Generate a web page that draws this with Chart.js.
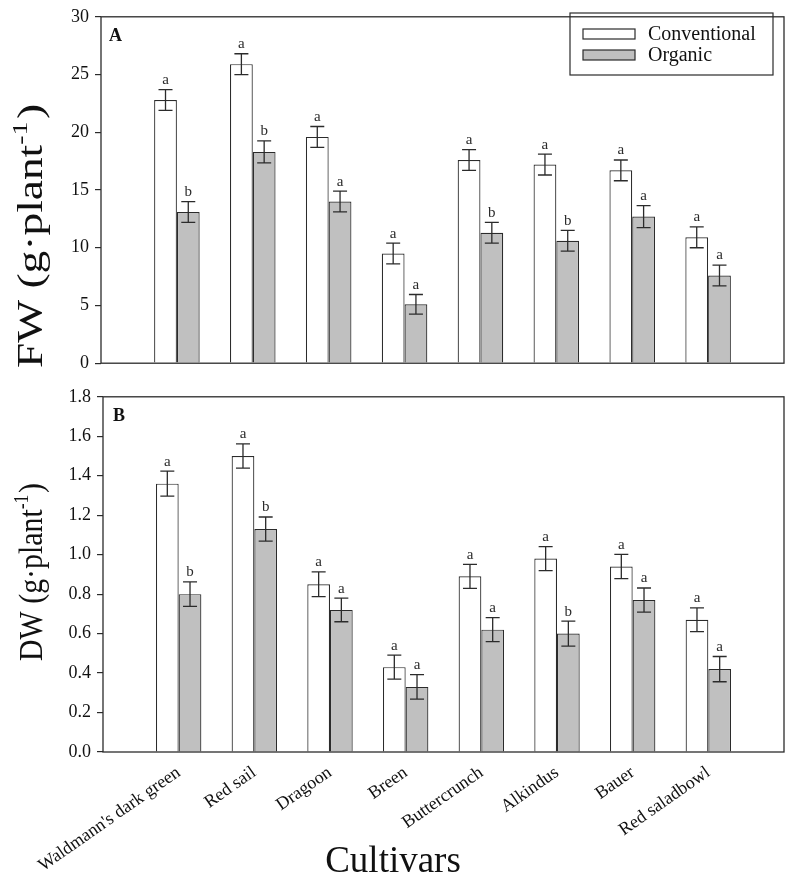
<!DOCTYPE html>
<html lang="en">
<head>
  <meta charset="UTF-8">
  <title>FW and DW by cultivar</title>
  <style>
    body { margin: 0; background: #fff; }
    .wrap { position: relative; width: 787px; height: 879px; }
    .panel { position: absolute; left: 0; }
    #boxA { top: 0; width: 787px; height: 380px; }
    #boxB { top: 380px; width: 787px; height: 499px; }
  </style>
</head>
<body>
  <div class="wrap">
    <div class="panel" id="boxA"><canvas id="chartA"></canvas></div>
    <div class="panel" id="boxB"><canvas id="chartB"></canvas></div>
  </div>

  <script src="https://cdn.jsdelivr.net/npm/chart.js"></script>
  <script>
    // Data
    const cultivars = ["Waldmann's dark green", 'Red sail', 'Dragoon', 'Breen', 'Buttercrunch', 'Alkindus', 'Bauer', 'Red saladbowl'];

    const fwConv = [22.8, 25.9, 19.6, 9.5, 17.6, 17.2, 16.7, 10.9];
    const fwConvErr = [0.9, 0.9, 0.9, 0.9, 0.9, 0.9, 0.9, 0.9];
    const fwConvLetters = ['a', 'a', 'a', 'a', 'a', 'a', 'a', 'a'];
    const fwOrg = [13.1, 18.3, 14.0, 5.1, 11.3, 10.6, 12.7, 7.6];
    const fwOrgErr = [0.9, 0.95, 0.9, 0.85, 0.9, 0.9, 0.95, 0.9];
    const fwOrgLetters = ['b', 'b', 'a', 'a', 'b', 'b', 'a', 'a'];

    const dwConv = [1.36, 1.50, 0.85, 0.43, 0.89, 0.98, 0.94, 0.67];
    const dwConvErr = [0.063, 0.061, 0.063, 0.061, 0.061, 0.061, 0.061, 0.06];
    const dwConvLetters = ['a', 'a', 'a', 'a', 'a', 'a', 'a', 'a'];
    const dwOrg = [0.80, 1.13, 0.72, 0.33, 0.62, 0.60, 0.77, 0.42];
    const dwOrgErr = [0.062, 0.061, 0.06, 0.062, 0.061, 0.063, 0.061, 0.064];
    const dwOrgLetters = ['b', 'b', 'a', 'a', 'a', 'b', 'a', 'a'];

    const fwTicks = [0, 5, 10, 15, 20, 25, 30];
    const dwTicks = [0, 0.2, 0.4, 0.6, 0.8, 1.0, 1.2, 1.4, 1.6, 1.8];

    const SERIF = '"Liberation Serif", "Times New Roman", serif';
    const INK = '#2b2b2b';

    // empty slots at both ends so the 8 groups sit one step in from each edge
    const pad = arr => [null, ...arr, null];
    const labels = ['', ...cultivars, ''];

    function makeSets(conv, convErr, convL, org, orgErr, orgL) {
      return [
        { label: 'Conventional', data: pad(conv), err: pad(convErr), letters: pad(convL),
          backgroundColor: '#ffffff', borderColor: INK, borderWidth: 1.2,
          categoryPercentage: 0.6, barPercentage: 1.0 },
        { label: 'Organic', data: pad(org), err: pad(orgErr), letters: pad(orgL),
          backgroundColor: '#c0c0c0', borderColor: INK, borderWidth: 1.2,
          categoryPercentage: 0.6, barPercentage: 1.0 }
      ];
    }

    // error bars, letters, frame, panel tag, legend, titles
    const extras = {
      id: 'extras',
      afterDatasetsDraw(chart, args, o) {
        const { ctx, chartArea: a } = chart;
        const y = chart.scales.y;
        ctx.save();
        chart.data.datasets.forEach((ds, di) => {
          const meta = chart.getDatasetMeta(di);
          meta.data.forEach((bar, i) => {
            const v = ds.data[i];
            if (v == null) return;
            const e = ds.err[i];
            const yt = y.getPixelForValue(v + e), yb = y.getPixelForValue(v - e);
            ctx.strokeStyle = INK;
            ctx.lineWidth = 1.3;
            ctx.beginPath();
            ctx.moveTo(bar.x, yt); ctx.lineTo(bar.x, yb);
            ctx.moveTo(bar.x - 7, yt); ctx.lineTo(bar.x + 7, yt);
            ctx.moveTo(bar.x - 7, yb); ctx.lineTo(bar.x + 7, yb);
            ctx.stroke();
            ctx.fillStyle = INK;
            ctx.font = '15px ' + SERIF;
            ctx.textAlign = 'center';
            ctx.textBaseline = 'bottom';
            ctx.fillText(ds.letters[i], bar.x, yt - 2);
          });
        });

        // frame
        ctx.strokeStyle = INK;
        ctx.lineWidth = 1.3;
        ctx.strokeRect(a.left, a.top, a.right - a.left, a.bottom - a.top);

        // panel tag
        ctx.fillStyle = '#111';
        ctx.font = 'bold 18px ' + SERIF;
        ctx.textAlign = 'left';
        ctx.textBaseline = 'alphabetic';
        ctx.fillText(o.tag, a.left + o.tagDx, a.top + 24);

        // legend
        if (o.legend) {
          const L = o.legend;
          ctx.lineWidth = 1.2;
          ctx.strokeRect(L.x, L.y, L.w, L.h);
          ctx.font = '20px ' + SERIF;
          ctx.textBaseline = 'middle';
          chart.data.datasets.forEach((ds, di) => {
            const ry = L.y + 21 + di * 21;
            ctx.fillStyle = ds.backgroundColor;
            ctx.fillRect(L.x + 13, ry - 5, 52, 10);
            ctx.strokeStyle = INK;
            ctx.strokeRect(L.x + 13, ry - 5, 52, 10);
            ctx.fillStyle = '#111';
            ctx.fillText(ds.label, L.x + 78, ry + 1);
          });
        }

        // y title with superscript, stretched along its length to match
        const t = o.ytitle;
        ctx.translate(t.x, t.y);
        ctx.rotate(-Math.PI / 2);
        ctx.font = t.size + 'px ' + SERIF;
        const w1 = ctx.measureText(t.main).width;
        ctx.font = Math.round(t.size * 0.6) + 'px ' + SERIF;
        const w2 = ctx.measureText('-1').width;
        ctx.font = t.size + 'px ' + SERIF;
        const w3 = ctx.measureText(')').width;
        const total = w1 + w2 + w3 + 2;
        ctx.scale(t.len / total, 1);
        ctx.fillStyle = '#111';
        ctx.textAlign = 'left';
        ctx.textBaseline = 'alphabetic';
        let x = -total / 2;
        ctx.fillText(t.main, x, 0); x += w1;
        ctx.font = Math.round(t.size * 0.6) + 'px ' + SERIF;
        ctx.fillText('-1', x, -t.size * 0.42); x += w2 + 2;
        ctx.font = t.size + 'px ' + SERIF;
        ctx.fillText(')', x, 0);
        ctx.restore();

        if (o.xtitle) {
          ctx.save();
          ctx.fillStyle = '#111';
          ctx.font = '37px ' + SERIF;
          ctx.textAlign = 'center';
          ctx.textBaseline = 'alphabetic';
          ctx.fillText(o.xtitle, 393, 872 - 380);
          ctx.restore();
        }
      }
    };

    function yScale(ticks, width, fmt) {
      return {
        min: ticks[0], max: ticks[ticks.length - 1],
        afterBuildTicks: s => { s.ticks = ticks.map(v => ({ value: v })); },
        afterFit: s => { s.width = width; },
        grid: { drawOnChartArea: false, tickLength: 6, color: INK, lineWidth: 1.2 },
        border: { display: false },
        ticks: { color: '#111', padding: 6, font: { family: SERIF, size: 18 }, callback: fmt }
      };
    }

    // Panel A
    new Chart(document.getElementById('chartA'), {
      type: 'bar',
      data: { labels, datasets: makeSets(fwConv, fwConvErr, fwConvLetters, fwOrg, fwOrgErr, fwOrgLetters) },
      options: {
        responsive: true, maintainAspectRatio: false, animation: false,
        layout: { padding: { top: 9, right: 3, left: 0, bottom: 0 } },
        plugins: {
          legend: { display: false }, tooltip: { enabled: false },
          extras: { tag: 'A', tagDx: 8,
            legend: { x: 570, y: 13, w: 203, h: 62 },
            ytitle: { main: 'FW (g\u00b7plant', x: 42, y: 236, size: 36, len: 264 } }
        },
        scales: {
          x: { offset: false, grid: { display: false }, border: { display: false },
               ticks: { display: false }, afterFit: s => { s.height = 10; } },
          y: yScale(fwTicks, 101, v => v)
        }
      },
      plugins: [extras]
    });

    // Panel B
    new Chart(document.getElementById('chartB'), {
      type: 'bar',
      data: { labels, datasets: makeSets(dwConv, dwConvErr, dwConvLetters, dwOrg, dwOrgErr, dwOrgLetters) },
      options: {
        responsive: true, maintainAspectRatio: false, animation: false,
        layout: { padding: { top: 11, right: 3, left: 0, bottom: 0 } },
        plugins: {
          legend: { display: false }, tooltip: { enabled: false },
          extras: { tag: 'B', tagDx: 10,
            ytitle: { main: 'DW (g\u00b7plant', x: 42, y: 572 - 380, size: 34, len: 178 },
            xtitle: 'Cultivars' }
        },
        scales: {
          x: { offset: false, grid: { display: false }, border: { display: false },
               afterFit: s => { s.height = 127; s.paddingLeft = 0; s.paddingRight = 0; },
               ticks: { autoSkip: false, minRotation: 35, maxRotation: 35, padding: 2, color: '#111',
                        font: { family: SERIF, size: 18 } } },
          y: yScale(dwTicks, 103, v => Number(v).toFixed(1))
        }
      },
      plugins: [extras]
    });
  </script>
</body>
</html>
